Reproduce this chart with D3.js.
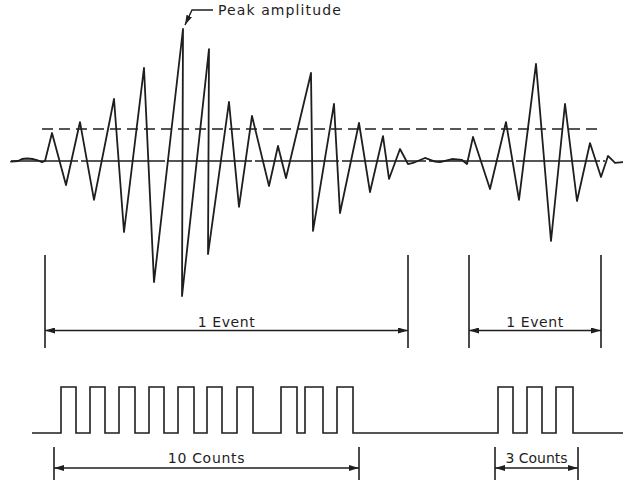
<!DOCTYPE html>
<html>
<head>
<meta charset="utf-8">
<script src="https://cdn.jsdelivr.net/npm/d3@7"></script>
<style>
  html, body { margin: 0; padding: 0; background: #fff; }
  svg { display: block; }
  text { font-family: "DejaVu Sans", sans-serif; fill: #1e1e1e; }
</style>
</head>
<body>
<svg id="chart" width="623" height="483"></svg>
<script>
// Acoustic emission signal: sample times (µs) and amplitudes (% of peak)
const signalTime = [0, 7, 11, 16, 22, 27, 31, 34, 41, 55, 69, 83, 103, 113, 133, 143, 172, 171,
  198, 197, 218, 228, 241, 258, 267, 275, 300, 302, 323, 329, 348, 359, 372, 378, 389, 397,
  402, 414, 424, 429, 441, 451, 456, 462, 479, 495, 508, 525, 540, 554, 566, 579, 590, 597, 604, 612];
const signalAmp = [-0.4, 0, 1.5, 1.9, 1.5, 0.4, -0.8, 0, 21.2, -18.2, 29.5, -29.5, 47, -53.8, 70.5, -91.7, 100, -102.3,
  84.8, -70.5, 44.7, -34.8, 34.1, -18.9, 11.4, -12.9, 66.7, -53, 43.2, -39.4, 28.8, -23.5, 18.9, -13.6, 9.1, -2.3,
  -1.5, 2.3, -0.4, -0.8, 1.5, 0.8, -2.3, 18.2, -21.2, 29.5, -29.5, 73.5, -60.6, 43.2, -30.3, 13.6, -12.1, 3.8, -1.5, -0.8];

// Detection threshold and its extent
const thresholdLevel = 24.2;
const thresholdSpan = [31, 592];
const baselineSpan = [0, 594];

// Threshold-crossing pulses: start / end times of each count
const pulseStart = [50, 79, 108, 138, 167, 196, 226, 270, 294, 326, 487, 516, 545];
const pulseEnd   = [65, 94, 124, 153, 183, 211, 242, 286, 312, 342, 502, 531, 562];
const pulseSpan = [21, 612];

// Event windows and count windows
const eventLabels = ["1 Event", "1 Event"];
const eventStart = [34, 458];
const eventEnd = [397, 590];
const countLabels = ["10 Counts", "3 Counts"];
const countStart = [43, 484];
const countEnd = [348, 567];

const svg = d3.select("#chart");
const ink = "#1e1e1e";

const x = d3.scaleLinear().domain([0, 612]).range([11, 623]);
const y = d3.scaleLinear().domain([-100, 100]).range([293, 29]);
const yPulse = d3.scaleLinear().domain([0, 1]).range([433, 387]);

// Arrowhead markers
const defs = svg.append("defs");
defs.append("marker")
  .attr("id", "arrow")
  .attr("viewBox", "0 0 10 6")
  .attr("refX", 10).attr("refY", 3)
  .attr("markerWidth", 10).attr("markerHeight", 6)
  .attr("markerUnits", "userSpaceOnUse")
  .attr("orient", "auto-start-reverse")
  .append("path").attr("d", "M0,0 L10,3 L0,6 Z").attr("fill", ink);

// Centre line (long dash) and dashed threshold
svg.append("line")
  .attr("x1", x(baselineSpan[0])).attr("x2", x(baselineSpan[1]))
  .attr("y1", y(0)).attr("y2", y(0))
  .attr("stroke", ink).attr("stroke-width", 1.5)
  .attr("stroke-dasharray", "84,3").attr("stroke-dashoffset", 17);

svg.append("line")
  .attr("x1", x(thresholdSpan[0])).attr("x2", x(thresholdSpan[1]))
  .attr("y1", y(thresholdLevel)).attr("y2", y(thresholdLevel))
  .attr("stroke", ink).attr("stroke-width", 1.6)
  .attr("stroke-dasharray", "11,6");

// Waveform
const signal = signalTime.map((t, i) => ({ t, a: signalAmp[i] }));
svg.append("path")
  .datum(signal)
  .attr("fill", "none")
  .attr("stroke", ink)
  .attr("stroke-width", 1.8)
  .attr("stroke-linejoin", "round")
  .attr("stroke-linecap", "round")
  .attr("d", d3.line().x(d => x(d.t)).y(d => y(d.a)));

// Peak amplitude callout
const peak = signal.reduce((m, d) => (d.a > m.a ? d : m), signal[0]);
const px = x(peak.t), py = y(peak.a);
svg.append("path")
  .attr("d", `M${px + 30},${py - 19} L${px + 9},${py - 19} L${px + 2},${py - 4}`)
  .attr("fill", "none").attr("stroke", ink).attr("stroke-width", 1.4)
  .attr("marker-end", "url(#arrow)");
svg.append("text")
  .attr("x", px + 35).attr("y", py - 14)
  .attr("font-size", 14).attr("letter-spacing", 1.1)
  .text("Peak amplitude");

// Dimension bracket helper: end bars, double-headed arrow, label
function bracket(x0, x1, barTop, barBottom, arrowY, label, labelY, spacing) {
  const g = svg.append("g");
  [x0, x1].forEach(xx => {
    g.append("line")
      .attr("x1", xx).attr("x2", xx).attr("y1", barTop).attr("y2", barBottom)
      .attr("stroke", ink).attr("stroke-width", 1.6);
  });
  g.append("line")
    .attr("x1", x0).attr("x2", x1).attr("y1", arrowY).attr("y2", arrowY)
    .attr("stroke", ink).attr("stroke-width", 1.3)
    .attr("marker-start", "url(#arrow)").attr("marker-end", "url(#arrow)");
  g.append("text")
    .attr("x", (x0 + x1) / 2).attr("y", labelY)
    .attr("text-anchor", "middle")
    .attr("font-size", 14).attr("letter-spacing", spacing)
    .text(label);
}

eventLabels.forEach((lab, i) => {
  bracket(x(eventStart[i]), x(eventEnd[i]), 255, 348, 330.5, lab, 327, 0.6);
});
countLabels.forEach((lab, i) => {
  bracket(x(countStart[i]), x(countEnd[i]), 447, 480, 468, lab, 463, i === 0 ? 0.7 : 0);
});

// Count pulse train
const pulsePts = [[pulseSpan[0], 0]];
pulseStart.forEach((s, i) => {
  pulsePts.push([s, 0], [s, 1], [pulseEnd[i], 1], [pulseEnd[i], 0]);
});
pulsePts.push([pulseSpan[1], 0]);
svg.append("path")
  .datum(pulsePts)
  .attr("fill", "none")
  .attr("stroke", ink)
  .attr("stroke-width", 1.6)
  .attr("d", d3.line().x(d => x(d[0])).y(d => yPulse(d[1])));
</script>
</body>
</html>
